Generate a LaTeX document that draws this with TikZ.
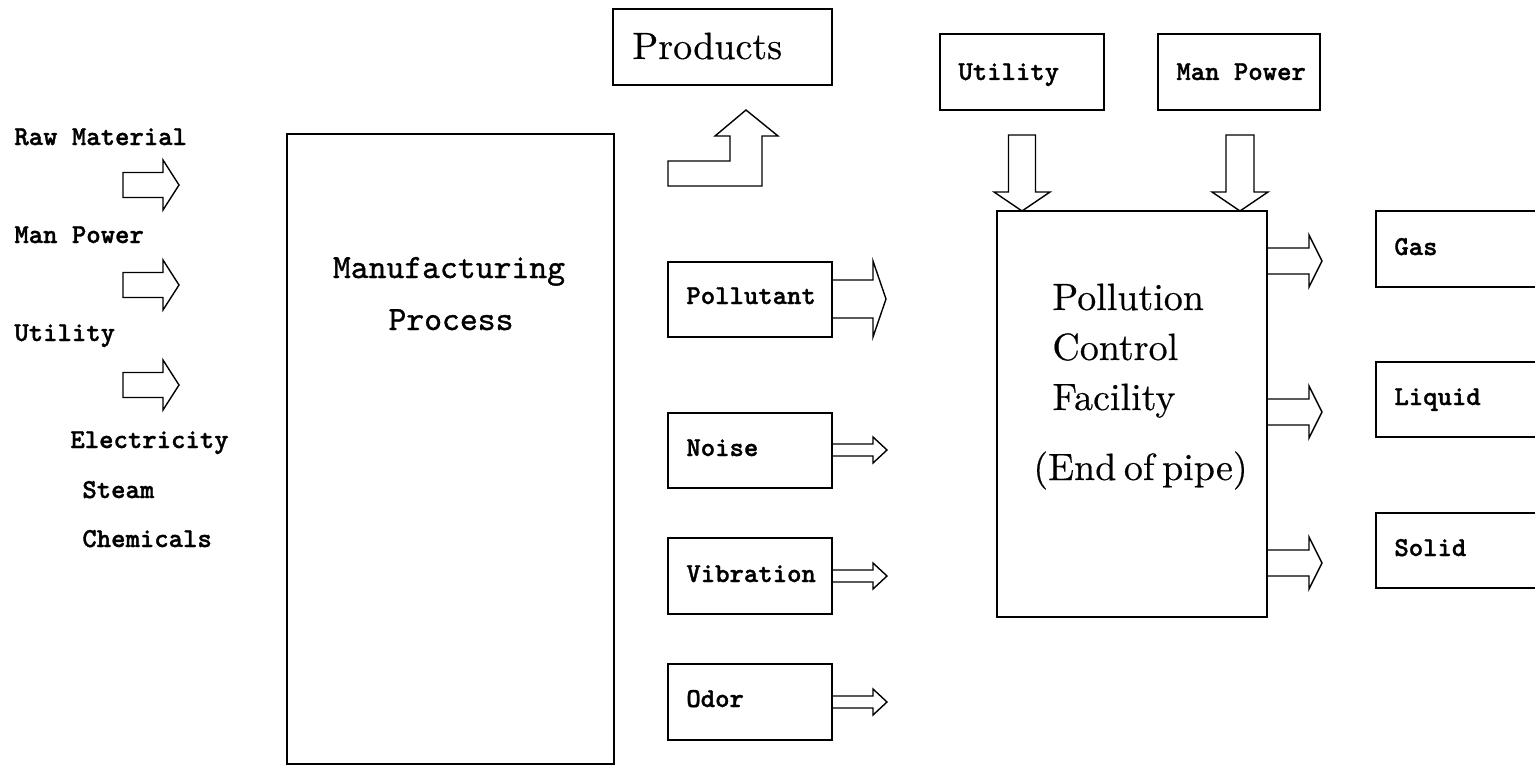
\documentclass[tikz,border=0pt]{standalone}
\usepackage{fontspec}
\newfontfamily\labelmono{lmmonolt10-bold.otf}[FakeBold=1.2]
\newfontfamily\bigmono{lmmono10-regular.otf}[FakeBold=1]
\newfontfamily\serifTen{lmroman10-regular.otf}[FakeBold=0.4]
\newcommand\myRarrow[6]{% x0, x1, xtip, yc, shaft half, head half
  \draw[blockarrow] (#1,#4-#5) -- (#2,#4-#5) -- (#2,#4-#6) -- (#3,#4) -- (#2,#4+#6) -- (#2,#4+#5) -- (#1,#4+#5) -- cycle;}
\newcommand\myDarrow[6]{% xc, y0, y1, ytip, shaft half, head half
  \draw[blockarrow] (#1-#5,#2) -- (#1-#5,#3) -- (#1-#6,#3) -- (#1,#4) -- (#1+#6,#3) -- (#1+#5,#3) -- (#1+#5,#2) -- cycle;}
\begin{document}
\begin{tikzpicture}[x=0.5pt,y=-0.5pt,
  box/.style={draw,line width=0.75pt,inner sep=0pt,outer sep=0pt},
  blockarrow/.style={draw,line width=0.7pt,line join=miter},
  lbl/.style={anchor=base west,inner sep=0pt,font=\labelmono\fontsize{13.7}{16}\selectfont},
  big/.style={anchor=base,inner sep=0pt,font=\bigmono\fontsize{17}{20}\selectfont},
  serif/.style={anchor=base west,inner sep=0pt,font=\serifTen\fontsize{19}{23}\selectfont}]
\useasboundingbox (0,0) rectangle (1535,765);
\clip (0,0) rectangle (1535,765);

% left inputs
\node[lbl] (raw) at (14,145) {Raw Material};
\node[lbl] (man) at (14,243) {Man Power};
\node[lbl] (util) at (14,341) {Utility};
\node[lbl] (elec) at (70,448) {Electricity};
\node[lbl] (steam) at (82,498) {Steam};
\node[lbl] (chem) at (82,547) {Chemicals};
\myRarrow{123}{163}{179}{185}{12.5}{25}
\myRarrow{123}{163}{179}{285}{12.5}{25}
\myRarrow{123}{163}{179}{385}{12.5}{25}

% manufacturing process
\node[box,minimum width=163.5pt,minimum height=315pt] (mp) at (450.5,449) {};
\node[big] (mpt1) at (449,278) {Manufacturing};
\node[big] (mpt2) at (451,330) {Process};

% products
\node[box,minimum width=109.5pt,minimum height=38pt] (prod) at (722.5,47) {};
\node[serif] (prodt) at (632,59) {Products};
\draw[blockarrow] (668,186) -- (668,161) -- (730,161) -- (730,136) -- (715,136) -- (746,110) -- (778,136) -- (762,136) -- (762,186) -- cycle;

% outputs of process
\node[box,minimum width=82pt,minimum height=37.5pt] (poll) at (750,299.5) {};
\node[lbl] (pollt) at (686,304) {Pollutant};
\myRarrow{832}{873}{886}{299}{19}{38}
\node[box,minimum width=82pt,minimum height=37.5pt] (noise) at (750,450.5) {};
\node[lbl] (noiset) at (686,456) {Noise};
\myRarrow{832}{873}{887}{450}{6}{13}
\node[box,minimum width=82pt,minimum height=38pt] (vib) at (750,576) {};
\node[lbl] (vibt) at (686,582) {Vibration};
\myRarrow{832}{873}{887}{576}{6}{13}
\node[box,minimum width=82pt,minimum height=38pt] (odor) at (750,702) {};
\node[lbl] (odort) at (686,707) {Odor};
\myRarrow{832}{873}{887}{702}{6}{13}

% pollution control facility inputs
\node[box,minimum width=82pt,minimum height=38pt] (util2) at (1022,72) {};
\node[lbl] (util2t) at (958,80) {Utility};
\node[box,minimum width=81pt,minimum height=38pt] (man2) at (1239,72) {};
\node[lbl] (man2t) at (1176,80) {Man Power};
\myDarrow{1022}{135}{192}{211}{13.5}{28}
\myDarrow{1240}{135}{192}{211}{14}{28}

% pollution control facility
\node[box,minimum width=135pt,minimum height=203pt] (pcf) at (1132,414) {};
\node[serif] (pcf1) at (1052,310) {Pollution};
\node[serif] (pcf2) at (1052,360) {Control};
\node[serif] (pcf3) at (1052,410) {Facility};
\node[serif] (pcf4) at (1033,480) {(End\hspace{0.2em}of\hspace{0.2em}pipe)};

% outputs
\myRarrow{1267}{1309}{1322}{261}{13}{26}
\myRarrow{1267}{1309}{1322}{412}{13}{26}
\myRarrow{1267}{1309}{1322}{563}{13}{26}
\node[box,minimum width=85pt,minimum height=38pt] (gas) at (1461,249) {};
\node[lbl] (gast) at (1394,255) {Gas};
\node[box,minimum width=85pt,minimum height=37.5pt] (liq) at (1461,399.5) {};
\node[lbl] (liqt) at (1394,405) {Liquid};
\node[box,minimum width=85pt,minimum height=37.5pt] (sol) at (1461,550.5) {};
\node[lbl] (solt) at (1394,556) {Solid};
\end{tikzpicture}
\end{document}
